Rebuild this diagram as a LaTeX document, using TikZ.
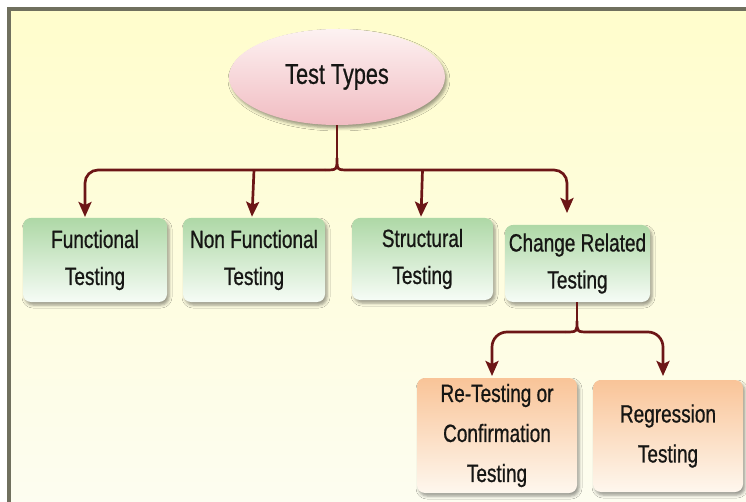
\documentclass[tikz,border=0pt]{standalone}
\usepackage{fontspec}
\setmainfont{Liberation Sans}[FakeStretch=0.76, FakeBold=0.7]
\usetikzlibrary{shapes.geometric,arrows.meta,shadows.blur,calc}

\definecolor{wire}{RGB}{108,22,22}
\definecolor{ink}{RGB}{22,22,20}
\definecolor{bgtop}{RGB}{255,253,204}
\definecolor{bgbot}{RGB}{253,253,240}
\definecolor{framec}{RGB}{112,112,94}
\definecolor{pinktop}{RGB}{253,242,242}
\definecolor{pinkbot}{RGB}{241,188,194}
\definecolor{greentop}{RGB}{174,216,166}
\definecolor{greenbot}{RGB}{246,252,246}
\definecolor{orangetop}{RGB}{249,196,152}
\definecolor{orangebot}{RGB}{254,247,238}

\tikzset{
  softshadow/.style={blur shadow={shadow xshift=2pt, shadow yshift=-3pt,
      shadow blur radius=3pt, shadow opacity=40}},
  label/.style={text=ink, align=center, inner sep=0pt,
      font=\fontsize{25}{37}\selectfont},
  rootnode/.style={ellipse, softshadow, top color=pinktop, bottom color=pinkbot,
      minimum width=216pt, minimum height=96pt, text=ink, inner sep=0pt,
      font=\fontsize{28.5}{32}\selectfont},
  greenbox/.style={label, rounded corners=8pt, softshadow,
      top color=greentop, bottom color=greenbot},
  orangebox/.style={label, rounded corners=8pt, softshadow,
      top color=orangetop, bottom color=orangebot,
      font=\fontsize{25}{40}\selectfont},
  wireline/.style={draw=wire, line width=2.7pt},
  arrowline/.style={wireline, -{Stealth[length=15pt,width=13pt,inset=3pt]}},
}

\begin{document}
\begin{tikzpicture}[x=1pt,y=-1pt]
\useasboundingbox (0,0) rectangle (746,502);
\fill[white] (0,0) rectangle (746,502);
% panel background and its frame
\shade[top color=bgtop, bottom color=bgbot] (9,9) rectangle (746,502);
\draw[draw=framec, line width=3.5pt] (9,502) -- (9,9) -- (746,9);

% nodes
\node[rootnode] (tt) at (337,77) {Test Types};

\node[greenbox, minimum width=144pt, minimum height=84pt] (fun) at (95,260) {Functional\\Testing};
\node[greenbox, minimum width=142pt, minimum height=84pt] (nf) at (254,260) {Non Functional\\Testing};
\node[greenbox, minimum width=141pt, minimum height=82pt] (st) at (422.5,259) {Structural\\Testing};
\node[greenbox, minimum width=145pt, minimum height=77pt] (cr) at (577.5,263.5) {Change Related\\Testing};

\node[orangebox, minimum width=160pt, minimum height=115pt] (rt) at (497,435.5) {Re-Testing or\\Confirmation\\Testing};
\node[orangebox, minimum width=150pt, minimum height=112pt] (rg) at (668,436) {Regression\\Testing};

% junction points of the braces and arrow ends
\coordinate (jt) at (337,158);
\coordinate (jl) at (325,170);
\coordinate (jr) at (349,170);
\coordinate (fa) at (85,217);
\coordinate (ca) at (567,213);

\coordinate (kt) at (577,321);
\coordinate (kl) at (565,332);
\coordinate (kr) at (589,332);
\coordinate (ra) at (492,376);
\coordinate (ga) at (663,376);

% first level connectors
\draw[wireline] (tt.south) -- (jt);
\draw[wireline] (jl) .. controls (jt |- jl) .. (jt) .. controls (jt |- jr) .. (jr);
\draw[arrowline, rounded corners=13pt] (jl) -| (fa);
\draw[arrowline] (nf.north |- jl) -- ($(nf.north)+(-2,-1)$);
\draw[arrowline] (st.north |- jr) -- ($(st.north)+(-1.5,-1)$);
\draw[arrowline, rounded corners=13pt] (jr) -| (ca);

% second level connectors
\draw[wireline] (cr.south -| kt) -- (kt);
\draw[wireline] (kl) .. controls (kt |- kl) .. (kt) .. controls (kt |- kr) .. (kr);
\draw[arrowline, rounded corners=15pt] (kl) -| (ra);
\draw[arrowline, rounded corners=15pt] (kr) -| (ga);
\end{tikzpicture}
\end{document}
